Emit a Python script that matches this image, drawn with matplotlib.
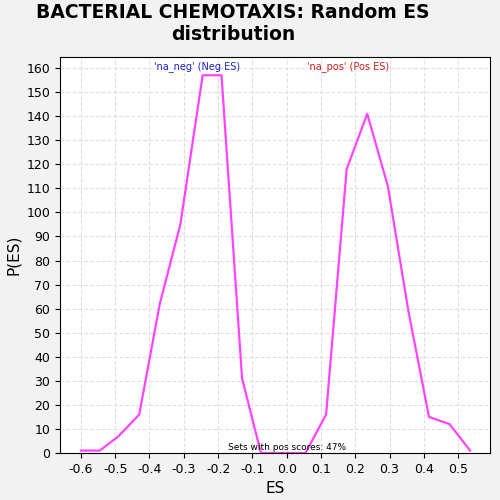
import matplotlib
matplotlib.use("Agg")
import matplotlib.pyplot as plt

es = [-0.6, -0.545, -0.49, -0.43, -0.37, -0.31, -0.245, -0.19, -0.13, -0.075,
      0.055, 0.115, 0.175, 0.235, 0.295, 0.355, 0.415, 0.475, 0.535]
pes = [1, 1, 7, 16, 62, 95, 157, 157, 31, 0,
       0, 16, 118, 141, 111, 59, 15, 12, 1]
xticks = [-0.6, -0.5, -0.4, -0.3, -0.2, -0.1, 0.0, 0.1, 0.2, 0.3, 0.4, 0.5]

fig = plt.figure(figsize=(5, 5), dpi=100, facecolor="#f2f2f2")
ax = fig.add_axes([0.12, 0.094, 0.86, 0.792])
ax.plot(es, pes, color="#ff44ff", lw=1.6)
ax.set_xlim(-0.661, 0.593)
ax.set_ylim(0, 164.6)
ax.set_xticks(xticks)
ax.set_xticklabels([f"{t:.1f}" for t in xticks])
ax.set_yticks(range(0, 161, 10))
ax.tick_params(labelsize=9)
ax.grid(True, ls="--", color="#e0e0e0", lw=0.8)
ax.set_xlabel("ES", fontsize=11)
ax.set_ylabel("P(ES)", fontsize=11)
fig.text(0.466, 0.952, "BACTERIAL CHEMOTAXIS: Random ES\ndistribution", fontsize=13.5,
         fontweight="bold", ha="center", va="center", linespacing=1.2)
ax.text(-0.26, 163, "'na_neg' (Neg ES)", color="#2222cc", fontsize=7, ha="center", va="top")
ax.text(0.18, 163, "'na_pos' (Pos ES)", color="#cc2222", fontsize=7, ha="center", va="top")
ax.text(0.0, 0.5, "Sets with pos scores: 47%", fontsize=6.5, ha="center", va="bottom")
fig.savefig("out.png", dpi=100, facecolor=fig.get_facecolor())
